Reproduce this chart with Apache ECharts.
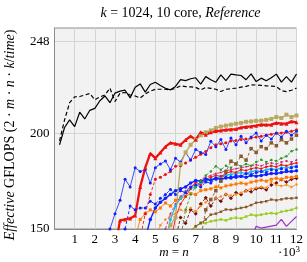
<!DOCTYPE html>
<html><head><meta charset="utf-8">
<script src="https://cdn.jsdelivr.net/npm/echarts@6/dist/echarts.min.js"></script>
<style>html,body{margin:0;padding:0;background:#fff}#c{width:307px;height:262px}</style>
</head><body><div id="c"></div>
<script>
// ---- data (x in thousands, step 0.25) ----
const step = 0.25;
const xTickValues = [1,2,3,4,5,6,7,8,9,10,11,12];
const yTickValues = [150, 200, 248];

const blackSolidStart = 0.25;
const blackSolid = [194,203,207,203.5,211,207.5,212,213,217,219.5,216,221,222,222.5,218.5,224,225.8,221.5,225.5,226.7,225,223.5,222.7,224.5,228,227.5,228.5,229,225.7,229.6,228,226.7,230.5,227.5,230.9,230.5,230.2,228,231,227,228.8,227.4,229,230.9,226.7,229.6,226.7,231];
const blackDashedStart = 0.25;
const blackDashed = [196,207,216,219,219.2,220,220.8,217.5,219,220,223.6,216.6,221,221.3,220,219.5,218.4,220.5,222,223,223,223,222.7,223.5,224.8,224.4,224.2,224,222.7,223.9,223.5,223,221.8,223,223.3,223.6,224.1,224.5,225.3,225.2,225,224.8,224.6,224.4,222.3,221.8,222.5,223.6];

const blueThinStart = 2.5;
const blueThin = [145,150,158,165,176,172,182,180,181,174,182,184,185.5,181,187,185,190,186,191.5,190,188.9,195.8,193,196.7,191.5,197.6,194,198.4,195,198,200.2,196,199,197,200.2,198,201,199,201];
const redThickStart = 3.0;
const redThick = [140,154.5,155,155.5,157,172,182,189.5,187,190,193,195,194.5,194,196.5,198.5,196.7,200.5,199.3,200.5,201.2,201.4,201.8,202,202.2,203,203.3,203.6,204,204.5,204.4,204.5,205.4,205,205,206.2,205.7];
const blueDashedStart = 3.25;
const blueDashed = [140,150,162,160,161,161,164.5,163,166,168,170.6,168,170,169,172,173,172,174.5,174,176,175,177,176.5,178,177.5,179,178.5,179.5,180,179.5,181,180.5,181.5,181,182,182.5];
const redDashedStart = 4.25;
const redDashed = [145,158,168,176,177,178.5,180,182.8,183,184.5,186,187.5,189,190.5,192.5,194,194.5,195,196,196.2,196.7,197,197.5,198,198.4,199,199.5,200,200.2,200.5,201,201.9];
const orangeSolidStart = 4.0;
const orangeSolid = [145,155,158,160,159,161,163.6,162,165,166,167,168.5,168,170,170.5,171,172,171.5,172.5,173,173.5,174,173.5,174.5,175,175.5,175,176,176.5,176,177,177,177.5];
const blueMidStart = 4.5;
const blueMid = [145,155,161,164,166,168,170,171,172,174,175.3,175,176,175.5,176.5,176,176.6,177,177,177.5,177,178,177.6,178,178.5,179,179,179.5,180,180,180.4];
const orangeDashedStart = 5.0;
const orangeDashed = [145,152,155,157,158,160,159,161,159.3,162,164,165,166,167,168,167.5,168,169,170,171,171.5,172,171.5,174.6,173,172.5,173,172,173.2];
const magentaStart = 5.25;
const magenta = [140,150,158,163,167,170,172,174,175.5,177,178,179,179.5,180.5,181,181.5,182,182.5,183,183.5,183,184,184.5,184,185,185.5,185,186];
const cyanStart = 5.5;
const cyan = [142,155,162,166,169,171,172,174,175,176,176.5,177.5,178,178.5,179,179.5,179,180,180.5,180,181,181.5,181,182,182,182.5,183];
const redThinStart = 5.75;
const redThin = [142,156,163,167,171,174.6,173,176,177,178,177.5,179,180,179.5,181,180.5,181.5,182,181.5,182.5,183,182.5,183.5,183,184,184.5];
const maroonStart = 6.0;
const maroon = [145,156,153,160,158,163,166.3,162,166,164.5,168,166,169,168,170,169.5,171,171.5,170.5,173,174,175.8,174.5,176,176.5];
const greenDashedStart = 6.25;
const greenDashed = [145,160,168,172,175,178,180,182.8,181,183,182,184,182.8,184,183,185,186.2,185,186,185.5,187,188,190.6,191.5];
const brownSolidStart = 6.5;
const brownSolid = [145,149,151.5,153,155,157.5,158,159,160.2,160,160.5,161,161.5,162.5,163.7,164,164.5,165.4,165,165.5,166,166,166.3];
const yellowGreenStart = 6.75;
const yellowGreen = [146,151,153.5,153,154,154.5,155,154.5,155.5,155.9,155.5,156.5,157.5,157,157.5,158,158.3,158,159,159.5,160,161];
const brownDashedStart = 7.25;
const brownDashed = [145,160,165.4,170,175,180,185.4,184,188,186,192,190,193,192,195,193.5,196.7,195,197,199];
const oliveStart = 5.5;
const olive = [146,152,156,184,190,194,196.5,199,200.5,201.5,202.8,203.5,204,204.5,205,205.4,206,206.2,206.5,206.6,207,207.5,208.5,208,209.7,208.5,209.3];
const purpleStart = 9.75;
const purple = [145,151.4,150.5,151,151.5,152,155,151.4,154,156.5];

// ---- helpers ----
function pts(start, vals) { return vals.map((v, i) => [start + i * step, v]); }
const F = 'Liberation Serif, DejaVu Serif, serif';

const defs = [
  { d: pts(purpleStart, purple), c: '#9b30c8', w: 1.2, t: 'solid', s: 'none', z: 1 },
  { d: pts(yellowGreenStart, yellowGreen), c: '#99cc22', w: 1.1, t: 'solid', s: 'rect', ss: 2.5 },
  { d: pts(brownSolidStart, brownSolid), c: '#8b5a2b', w: 1.0, t: 'solid', s: 'rect', ss: 2.5 },
  { d: pts(maroonStart, maroon), c: '#7a0a0a', w: 0.9, t: [3, 2], s: 'diamond', ss: 4 },
  { d: pts(orangeDashedStart, orangeDashed), c: '#ff8c1a', w: 0.9, t: [3, 2], s: 'circle', ss: 2.5 },
  { d: pts(orangeSolidStart, orangeSolid), c: '#ff7700', w: 0.9, t: 'solid', s: 'rect', ss: 3 },
  { d: pts(magentaStart, magenta), c: '#d0207a', w: 0.9, t: [3, 2], s: 'circle', ss: 2 },
  { d: pts(cyanStart, cyan), c: '#10b8f0', w: 1.2, t: 'solid', s: 'circle', ss: 3 },
  { d: pts(redThinStart, redThin), c: '#ee1111', w: 0.9, t: 'solid', s: 'circle', ss: 2.5 },
  { d: pts(blueMidStart, blueMid), c: '#1020ff', w: 1.4, t: 'solid', s: 'circle', ss: 3.5 },
  { d: pts(blueDashedStart, blueDashed), c: '#1020ff', w: 0.9, t: [3, 2], s: 'circle', ss: 3 },
  { d: pts(greenDashedStart, greenDashed), c: '#2e9a2e', w: 0.9, t: [3, 2], s: 'circle', ss: 2.5 },
  { d: pts(brownDashedStart, brownDashed), c: '#8b5a2b', w: 0.9, t: [3, 2], s: 'rect', ss: 3.5 },
  { d: pts(redDashedStart, redDashed), c: '#ee1111', w: 0.9, t: [3, 2], s: 'circle', ss: 3 },
  { d: pts(blueThinStart, blueThin), c: '#1020ff', w: 0.8, t: 'solid', s: 'circle', ss: 3 },
  { d: pts(oliveStart, olive), c: '#b8a860', w: 1.3, t: 'solid', s: 'rect', ss: 4 },
  { d: pts(redThickStart, redThick), c: '#ee1111', w: 2.3, t: 'solid', s: 'triangle', ss: 4 },
  { d: pts(blackDashedStart, blackDashed), c: '#000000', w: 1.2, t: [4, 2.5], s: 'none' },
  { d: pts(blackSolidStart, blackSolid), c: '#000000', w: 1.2, t: 'solid', s: 'none' }
];

const series = defs.map(o => ({
  type: 'line', data: o.d, clip: true, silent: true,
  symbol: o.s, symbolSize: o.ss || 0, showSymbol: o.s !== 'none',
  itemStyle: { color: o.c, borderWidth: 0 },
  lineStyle: { color: o.c, width: o.w, type: o.t },
  z: o.z || 2
}));

const chart = echarts.init(document.getElementById('c'), null, { renderer: 'canvas' });
chart.setOption({
  animation: false,
  backgroundColor: '#ffffff',
  title: {
    text: '{i|k} = 1024, 10 core, {i|Reference}',
    left: 175.5, top: 1, textAlign: 'center',
    textStyle: { fontFamily: F, fontSize: 14, fontWeight: 'normal', color: '#000',
      rich: { i: { fontFamily: F, fontSize: 14, fontStyle: 'italic', color: '#000' } } }
  },
  grid: { left: 54.5, right: 10.5, top: 28, bottom: 33, show: true,
    backgroundColor: '#f2f2f2', borderColor: '#8c8c8c', borderWidth: 1 },
  xAxis: {
    type: 'value', min: 0, max: 12, interval: 1,
    axisLine: { show: true, lineStyle: { color: '#8c8c8c' } },
    axisTick: { show: false },
    splitLine: { show: true, lineStyle: { color: '#d4d4d4', width: 1 } },
    axisLabel: { fontFamily: F, fontSize: 13, color: '#000', margin: 4,
      formatter: v => (v >= 1 ? String(v) : '') }
  },
  yAxis: {
    type: 'value', min: 150, max: 255,
    axisLine: { show: true, lineStyle: { color: '#8c8c8c' } },
    axisTick: { show: false, customValues: yTickValues },
    splitLine: { show: true, lineStyle: { color: '#d4d4d4', width: 1 } },
    axisLabel: { customValues: yTickValues, fontFamily: F, fontSize: 13, color: '#000', margin: 5 }
  },
  graphic: [
    { type: 'text', x: 10, y: 135, rotation: Math.PI / 2,
      style: { text: '{i|Effective} GFLOPS (2 · {i|m} · {i|n} · {i|k}/{i|time})',
        fontFamily: F, fontSize: 14, fill: '#000', align: 'center', verticalAlign: 'middle',
        rich: { i: { fontFamily: F, fontSize: 14, fontStyle: 'italic', fill: '#000' } } } },
    { type: 'text', x: 174, y: 253,
      style: { text: '{i|m} = {i|n}', fontFamily: F, fontSize: 13, fill: '#000',
        align: 'center', verticalAlign: 'middle',
        rich: { i: { fontFamily: F, fontSize: 13, fontStyle: 'italic', fill: '#000' } } } },
    { type: 'text', x: 289, y: 253,
      style: { text: '·10{s|3}', fontFamily: F, fontSize: 13, fill: '#000',
        align: 'center', verticalAlign: 'middle',
        rich: { s: { fontFamily: F, fontSize: 9, verticalAlign: 'top', padding: [0, 0, 6, 0], fill: '#000' } } } }
  ],
  series: series
});
</script>
</body></html>
